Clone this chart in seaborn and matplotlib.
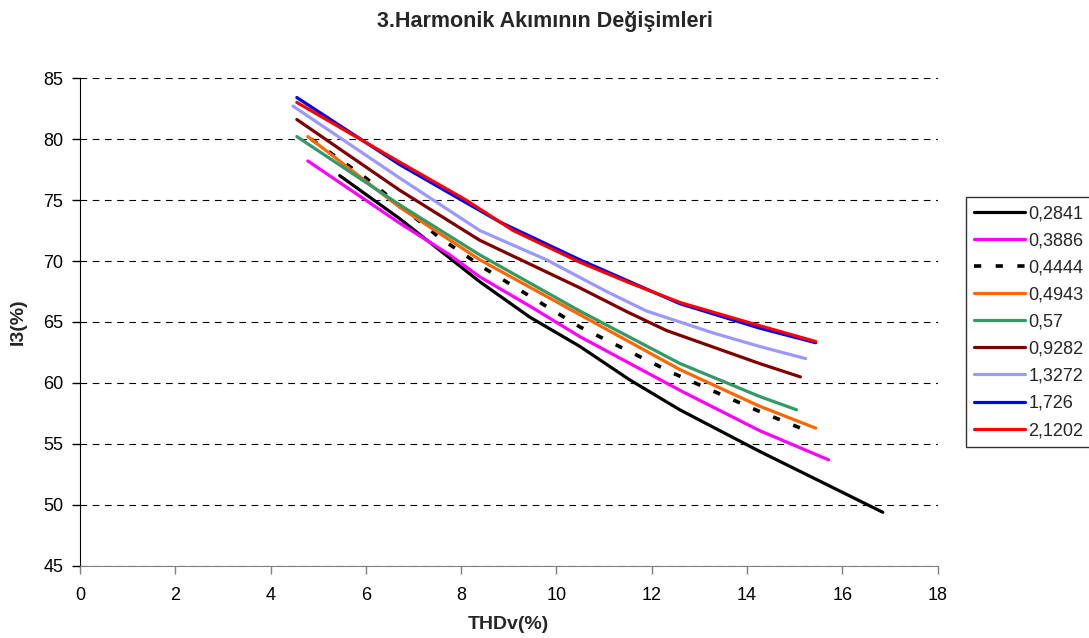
import matplotlib
matplotlib.use('Agg')
import matplotlib.pyplot as plt
import seaborn as sns
import pandas as pd

# series: THDv(%) and I3(%) per parameter value
labels = ['0,2841', '0,3886', '0,4444', '0,4943', '0,57', '0,9282', '1,3272', '1,726', '2,1202']

thd_2841 = [5.45, 6.7, 8.39, 9.44, 10.49, 11.54, 12.59, 14.26, 16.85]
i3_2841 = [77.0, 73.5, 68.3, 65.4, 63.0, 60.25, 57.8, 54.4, 49.4]

thd_3886 = [4.78, 6.71, 7.76, 8.39, 9.44, 10.49, 11.54, 12.59, 14.26, 15.71]
i3_3886 = [78.2, 73.1, 70.5, 68.7, 66.3, 63.8, 61.6, 59.4, 56.1, 53.7]

thd_4444 = [4.85, 6.0, 7.55, 8.53, 10.49, 12.45, 14.12, 15.31]
i3_4444 = [80.0, 76.8, 71.9, 69.3, 64.6, 60.8, 57.9, 56.0]

thd_4943 = [4.78, 6.71, 8.39, 10.49, 12.59, 14.26, 15.44]
i3_4943 = [80.2, 74.4, 70.1, 65.6, 61.1, 58.1, 56.3]

thd_57 = [4.55, 6.71, 8.39, 10.49, 12.59, 14.26, 15.04]
i3_57 = [80.2, 74.6, 70.5, 65.9, 61.6, 58.9, 57.8]

thd_9282 = [4.55, 6.71, 8.39, 10.49, 11.5, 12.31, 14.26, 15.12]
i3_9282 = [81.6, 75.8, 71.7, 67.8, 65.8, 64.3, 61.6, 60.5]

thd_13272 = [4.47, 6.71, 8.39, 9.79, 11.05, 11.89, 13.29, 14.26, 15.23]
i3_13272 = [82.7, 76.8, 72.5, 70.1, 67.5, 65.9, 64.1, 63.0, 62.0]

thd_1726 = [4.55, 6.71, 8.81, 10.49, 11.54, 12.59, 14.26, 15.44]
i3_1726 = [83.4, 77.9, 73.2, 70.1, 68.3, 66.5, 64.5, 63.3]

thd_21202 = [4.55, 6.71, 8.1, 9.09, 10.49, 11.54, 12.59, 14.26, 15.44]
i3_21202 = [83.0, 78.1, 75.0, 72.5, 69.9, 68.2, 66.6, 64.7, 63.4]

all_thd = [thd_2841, thd_3886, thd_4444, thd_4943, thd_57, thd_9282, thd_13272, thd_1726, thd_21202]
all_i3 = [i3_2841, i3_3886, i3_4444, i3_4943, i3_57, i3_9282, i3_13272, i3_1726, i3_21202]
colors = ['#000000', '#FF00FF', '#000000', '#FF6600', '#339966', '#800000', '#9999FF', '#0000FF', '#FF0000']

sns.set_style('white')
plt.rcParams['font.family'] = ['Liberation Sans', 'DejaVu Sans']

fig = plt.figure(figsize=(10.89, 6.38), dpi=100)
ax = fig.add_axes([0.0735, 0.1129, 0.7875, 0.7648])

for lab, xs, ys, col in zip(labels, all_thd, all_i3, colors):
    df = pd.DataFrame({'x': xs, 'y': ys})
    if lab == '0,4444':
        sns.lineplot(data=df, x='x', y='y', ax=ax, color=col, lw=2.6, label=lab,
                     sort=False, dashes=False, linestyle=(0, (2, 4)), zorder=3)
    else:
        sns.lineplot(data=df, x='x', y='y', ax=ax, color=col, lw=2.3, label=lab,
                     sort=False, zorder=3)

ax.set_xlim(0, 18)
ax.set_ylim(45, 85)
ax.set_xticks(range(0, 19, 2))
ax.set_yticks(range(45, 86, 5))
ax.yaxis.grid(True, color='black', linestyle=(0, (6, 5)), lw=0.8)
ax.xaxis.grid(False)
for s in ['top', 'right']:
    ax.spines[s].set_visible(False)
ax.spines['left'].set_color('black')
ax.spines['bottom'].set_color('#808080')
ax.tick_params(axis='both', direction='out', length=6, width=1, labelsize=13, colors='black',
               left=True, bottom=True)
ax.tick_params(axis='y', pad=6)
ax.tick_params(axis='x', color='#808080', labelcolor='black', pad=9)

ax.set_xlabel('THDv(%)', fontsize=14, fontweight='bold', labelpad=9)
ax.set_ylabel('I3(%)', fontsize=14, fontweight='bold', labelpad=12)
fig.suptitle('3.Harmonik Akımının Değişimleri', x=0.5, y=0.982, fontsize=15.5, fontweight='bold')

leg = ax.legend(loc='upper left', bbox_to_anchor=(966 / 1089, 1 - 197 / 638),
                bbox_transform=fig.transFigure, fontsize=13, frameon=True, fancybox=False,
                edgecolor='black', handlelength=2.8, handletextpad=0.2, labelspacing=0.56,
                borderpad=0.45, borderaxespad=0)
leg.get_frame().set_linewidth(1)

fig.savefig('out.png', dpi=100)
